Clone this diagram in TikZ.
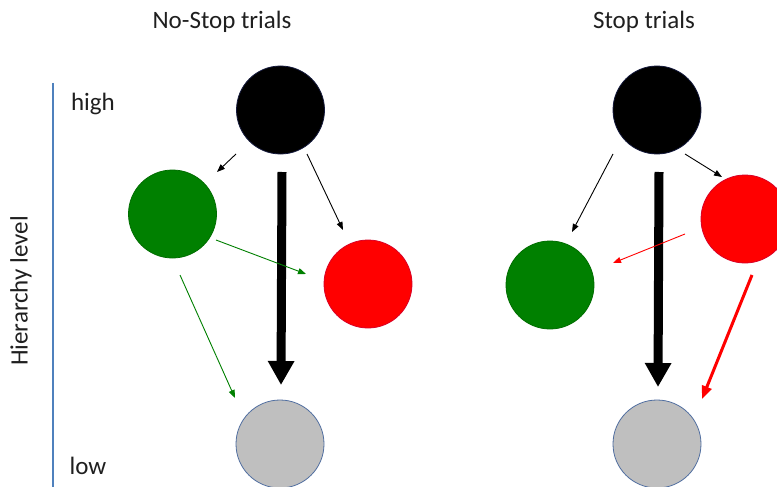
\documentclass[tikz,border=0pt]{standalone}
\usepackage{fontspec}
\setmainfont{Carlito}
\usetikzlibrary{arrows.meta}
\definecolor{axisblue}{RGB}{79,129,189}
\definecolor{ggreen}{RGB}{0,128,0}
\definecolor{rred}{RGB}{255,0,0}
\definecolor{ggray}{RGB}{191,191,191}
\definecolor{edgeblue}{RGB}{80,110,160}
\definecolor{navyedge}{RGB}{20,25,60}
\begin{document}
\begin{tikzpicture}[x=1pt,y=-1pt,
  ball/.style={circle, minimum size=88pt, inner sep=0pt, line width=0.8pt},
  lbl/.style={font=\fontsize{25}{30}\selectfont, text=black!88, inner sep=0pt},
  thinarrow/.style={line width=0.9pt, -{Triangle[width=6pt,length=8pt]}},
  thickarrow/.style={line width=9pt, -{Triangle[width=25pt,length=24pt]}},
  medarrow/.style={line width=3pt, -{Triangle[width=10pt,length=13pt]}}]
\useasboundingbox (0,0) rectangle (777,487);
\clip (0,0) rectangle (777,487);
\fill[white] (0,0) rectangle (777,487);

% axis
\coordinate (axTop) at (53,83);
\coordinate (axBot) at (53,487);
\draw[axisblue, line width=2pt] (axTop) -- (axBot);
\node[lbl, rotate=90] (hl) at (21,291) {Hierarchy level};
\node[lbl] (hi) at (93,104) {high};
\node[lbl] (lo) at (88,466) {low};

% titles
\node[lbl] (t1) at (222,22) {No-Stop trials};
\node[lbl] (t2) at (644,22) {Stop trials};

% left panel circles
\node[ball, fill=black, draw=navyedge] (kL) at (280.5,110) {};
\node[ball, fill=ggreen, draw=ggreen!85!black] (gL) at (172.5,214) {};
\node[ball, fill=rred, draw=rred!85!blue] (rL) at (368,284) {};
\node[ball, fill=ggray, draw=edgeblue] (yL) at (280,444) {};

% right panel circles
\node[ball, fill=black, draw=navyedge] (kR) at (657,110) {};
\node[ball, fill=rred, draw=rred!85!blue] (rR) at (745,219) {};
\node[ball, fill=ggreen, draw=ggreen!85!black] (gR) at (550,285) {};
\node[ball, fill=ggray, draw=edgeblue] (yR) at (657,444) {};

% left arrows
\coordinate (a1s) at (236,154); \coordinate (a1e) at (217,172);
\coordinate (a2s) at (307,154); \coordinate (a2e) at (343,230);
\coordinate (a3s) at (282,172); \coordinate (a3e) at (281,385);
\coordinate (a4s) at (216,240); \coordinate (a4e) at (306,274);
\coordinate (a5s) at (180,275); \coordinate (a5e) at (235,398);
\draw[thinarrow, black] (a1s) -- (a1e);
\draw[thinarrow, black] (a2s) -- (a2e);
\draw[thickarrow, black] (a3s) -- (a3e);
\draw[thinarrow, ggreen] (a4s) -- (a4e);
\draw[thinarrow, ggreen] (a5s) -- (a5e);

% right arrows
\coordinate (b1s) at (613,154); \coordinate (b1e) at (572,232);
\coordinate (b2s) at (685,154); \coordinate (b2e) at (722,177);
\coordinate (b3s) at (659,172); \coordinate (b3e) at (658,387);
\coordinate (b4s) at (685,234); \coordinate (b4e) at (613,263);
\coordinate (b5s) at (752,275); \coordinate (b5e) at (702,399);
\draw[thinarrow, black] (b1s) -- (b1e);
\draw[thinarrow, black] (b2s) -- (b2e);
\draw[thickarrow, black] (b3s) -- (b3e);
\draw[thinarrow, rred] (b4s) -- (b4e);
\draw[medarrow, rred] (b5s) -- (b5e);
\end{tikzpicture}
\end{document}
